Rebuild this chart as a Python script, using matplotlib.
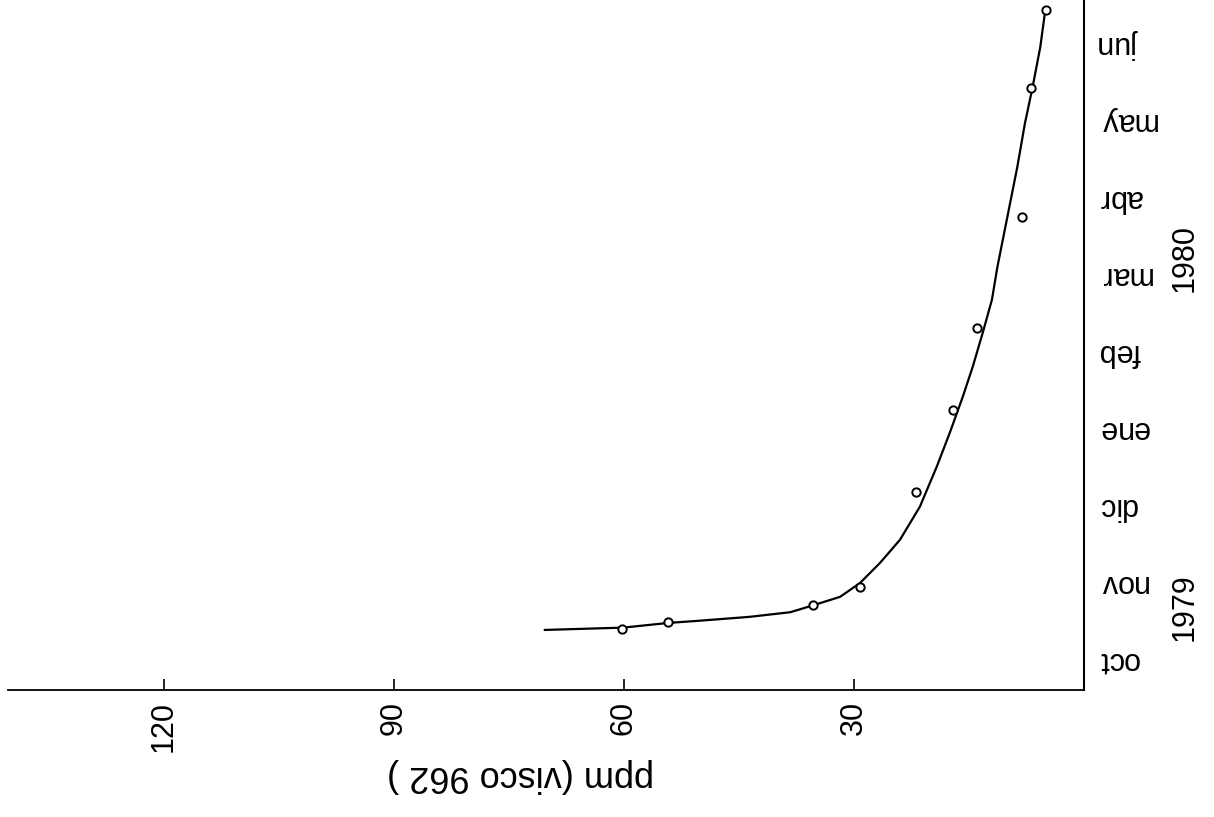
import matplotlib
matplotlib.use("Agg")
import matplotlib.pyplot as plt
import matplotlib.transforms as mtransforms

plt.rcParams['font.family'] = ['Liberation Sans', 'DejaVu Sans']

# month axis (oct 1979 = 0 ... jun 1980 = 8)
months = ['oct', 'nov', 'dic', 'ene', 'feb', 'mar', 'abr', 'may', 'jun']
month_pos = [0, 1, 2, 3, 4, 5, 6, 7, 8]
years = ['1979', '1980']
year_pos = [0.69, 5.22]

# measured points: ppm vs time (months)
pts_ppm = [60.3, 54.3, 35.3, 29.2, 21.9, 17.1, 14.0, 8.1, 6.9, 5.0]
pts_t = [0.40, 0.49, 0.71, 0.95, 2.18, 3.25, 4.31, 5.75, 7.43, 8.44]

# drawn smooth curve
curve_ppm = [70.3, 60.1, 54.3, 50.1, 43.6, 38.3, 35.3, 31.8, 29.2, 26.6, 24.0,
             21.4, 19.2, 17.5, 15.8, 14.5, 13.2, 12.0, 11.3, 10.0, 8.7, 7.7,
             6.7, 5.7, 5.1]
curve_t = [0.39, 0.42, 0.48, 0.51, 0.56, 0.62, 0.71, 0.82, 1.00, 1.26, 1.56,
           1.99, 2.51, 2.95, 3.42, 3.81, 4.25, 4.68, 5.10, 5.75, 6.40, 6.97,
           7.44, 7.96, 8.40]

ppm_ticks = [120, 90, 60, 30]

fig = plt.figure(figsize=(12.14, 8.17), dpi=100)
ax = fig.add_axes([8/1214, 127/817, 1076/1214, 690/817])

ax.plot(curve_ppm, curve_t, color='black', lw=1.6)
ax.plot(pts_ppm, pts_t, 'o', ms=6, mfc='white', mec='black', mew=1.4)

ax.set_xlim(140.3, 0)
ax.set_ylim(-0.39, 8.57)

ax.spines['left'].set_visible(False)
ax.spines['top'].set_visible(False)
ax.spines['bottom'].set_linewidth(1.3)
ax.spines['right'].set_linewidth(1.5)

ax.set_xticks(ppm_ticks)
ax.set_xticklabels([str(v) for v in ppm_ticks], rotation=90, fontsize=22)
ax.tick_params(axis='x', direction='in', length=8, width=1.2, pad=8)

ax.set_yticks(month_pos)
ax.set_yticklabels(months, rotation=180, fontsize=22, va='center')
ax.tick_params(axis='y', left=False, right=False, labelleft=False,
               labelright=True, length=0, pad=10)

trans = mtransforms.blended_transform_factory(fig.transFigure, ax.transData)
for yr, yp in zip(years, year_pos):
    ax.text(1185/1214, yp, yr, transform=trans, clip_on=False,
            rotation=90, fontsize=22, ha='center', va='center')

fig.text(520/1214, 1 - 776/817, 'ppm (visco 962 )', rotation=180,
         fontsize=26, ha='center', va='center')

fig.savefig('out.png', dpi=100)
